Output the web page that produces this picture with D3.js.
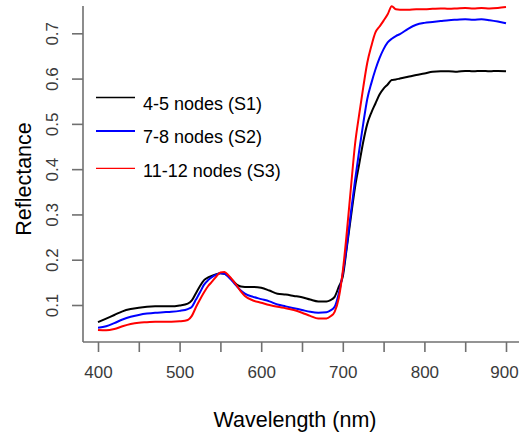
<!DOCTYPE html>
<html><head><meta charset="utf-8">
<script src="https://cdn.jsdelivr.net/npm/d3@7"></script>
<style>
html,body{margin:0;padding:0;background:#fff;}
svg{display:block;}
text{font-family:"Liberation Sans",Arial,sans-serif;}
</style>
</head><body>
<svg id="chart" width="519" height="436"></svg>
<script>
const wavelengths = [400,410,420,430,440,450,460,470,480,490,500,510,515,520,525,530,535,540,545,550,555,560,565,570,575,580,590,600,610,620,630,640,650,660,670,680,685,690,695,700,705,710,715,720,725,730,735,740,745,750,755,760,765,770,780,790,800,810,820,830,840,850,860,870,880,890,900];
const s1 = [0.062,0.070,0.078,0.086,0.091,0.094,0.096,0.097,0.097,0.097,0.099,0.103,0.110,0.126,0.142,0.155,0.161,0.165,0.168,0.170,0.169,0.163,0.154,0.145,0.141,0.140,0.140,0.138,0.132,0.125,0.123,0.120,0.117,0.112,0.108,0.108,0.111,0.118,0.140,0.163,0.228,0.295,0.360,0.410,0.460,0.500,0.525,0.545,0.565,0.578,0.587,0.597,0.598,0.600,0.604,0.608,0.611,0.615,0.616,0.616,0.615,0.617,0.616,0.617,0.616,0.617,0.616];
const s2 = [0.050,0.053,0.060,0.068,0.074,0.078,0.081,0.083,0.084,0.085,0.087,0.091,0.096,0.112,0.128,0.145,0.155,0.162,0.167,0.170,0.169,0.162,0.152,0.142,0.132,0.125,0.118,0.113,0.108,0.101,0.097,0.093,0.089,0.085,0.083,0.084,0.088,0.096,0.125,0.170,0.232,0.305,0.375,0.440,0.500,0.555,0.590,0.620,0.645,0.665,0.680,0.688,0.694,0.698,0.710,0.719,0.723,0.725,0.727,0.729,0.730,0.731,0.730,0.731,0.729,0.726,0.722];
const s3 = [0.045,0.044,0.047,0.053,0.058,0.061,0.062,0.063,0.063,0.063,0.064,0.067,0.076,0.095,0.112,0.128,0.142,0.152,0.163,0.172,0.173,0.165,0.155,0.143,0.130,0.120,0.110,0.105,0.100,0.096,0.093,0.089,0.083,0.076,0.070,0.070,0.075,0.085,0.115,0.175,0.262,0.360,0.455,0.520,0.580,0.635,0.672,0.702,0.715,0.728,0.742,0.760,0.753,0.752,0.752,0.753,0.753,0.754,0.755,0.754,0.755,0.756,0.755,0.756,0.755,0.756,0.758];
const seriesNames = ["4-5 nodes (S1)","7-8 nodes (S2)","11-12 nodes (S3)"];
const seriesColors = ["#000000","#0000ff","#ff0000"];
const xTicks = [400,450,500,550,600,650,700,750,800,850,900];
const xTickLabels = ["400","","500","","600","","700","","800","","900"];
const yTicks = [0.1,0.2,0.3,0.4,0.5,0.6,0.7];
const yTickLabels = ["0.1","0.2","0.3","0.4","0.5","0.6","0.7"];

const svg = d3.select("#chart");
const x = d3.scaleLinear().domain([400,900]).range([98,506]);
const y = d3.scaleLinear().domain([0.1,0.7]).range([305,33.3]);
const axisColor = "#707070";
const frameLeft = 83, frameBottom = 342, frameTop = 6, frameRight = 519;

svg.append("line").attr("x1",frameLeft).attr("x2",frameLeft).attr("y1",frameTop).attr("y2",frameBottom)
  .attr("stroke",axisColor).attr("stroke-width",1.6);
svg.append("line").attr("x1",frameLeft).attr("x2",frameRight).attr("y1",frameBottom).attr("y2",frameBottom)
  .attr("stroke",axisColor).attr("stroke-width",1.6);

const xAxis = d3.axisBottom(x).tickValues(xTicks).tickSize(10).tickPadding(14)
  .tickFormat((d,i)=>xTickLabels[i]);
const gx = svg.append("g").attr("transform",`translate(0,${frameBottom})`).call(xAxis);
gx.select(".domain").remove();
gx.selectAll(".tick line").attr("stroke",axisColor).attr("stroke-width",1.6);
gx.selectAll(".tick text").attr("fill","#3a3a3a").style("font-size","17px")
  .style("font-family","'Liberation Sans',Arial,sans-serif");
gx.selectAll(".tick").filter(d=>d===900).select("text").attr("dx","-2");

const yAxis = d3.axisLeft(y).tickValues(yTicks).tickSize(11).tickFormat((d,i)=>yTickLabels[i]);
const gy = svg.append("g").attr("transform",`translate(${frameLeft},0)`).call(yAxis);
gy.select(".domain").remove();
gy.selectAll(".tick line").attr("stroke",axisColor).attr("stroke-width",1.6);
gy.selectAll(".tick text").attr("fill","#3a3a3a").style("font-size","17px")
  .style("font-family","'Liberation Sans',Arial,sans-serif")
  .attr("x",null).attr("dy",null)
  .attr("text-anchor","middle")
  .attr("transform","translate(-31,0) rotate(-90) translate(0,6)");

const series = [s1,s2,s3];
const line = d3.line().x((d,i)=>x(wavelengths[i])).y(d=>y(d)).curve(d3.curveMonotoneX);
series.forEach((s,k)=>{
  svg.append("path").datum(s).attr("d",line).attr("fill","none")
    .attr("stroke",seriesColors[k]).attr("stroke-width",2).attr("stroke-linejoin","round");
});

const legLineY = [97.5,131,168.3];
const legTextY = [109.5,143,176.5];
const legW = [1.3,2.2,1.3];
seriesNames.forEach((n,k)=>{
  svg.append("line").attr("x1",96).attr("x2",135).attr("y1",legLineY[k]).attr("y2",legLineY[k])
    .attr("stroke",seriesColors[k]).attr("stroke-width",legW[k]);
  svg.append("text").attr("x",143).attr("y",legTextY[k]).text(n)
    .style("font-size","18px").attr("fill","#000");
});

svg.append("text").attr("x",295).attr("y",427).attr("text-anchor","middle")
  .style("font-size","21.5px").text("Wavelength (nm)");
svg.append("text").attr("transform","translate(31,179) rotate(-90)").attr("text-anchor","middle")
  .style("font-size","21.5px").text("Reflectance");
</script>
</body></html>
